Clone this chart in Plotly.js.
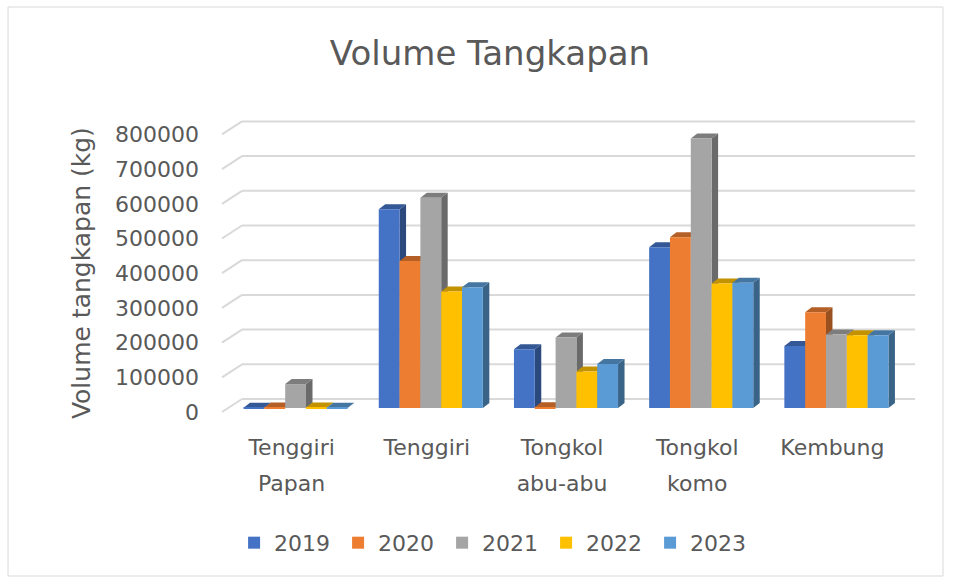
<!DOCTYPE html>
<html>
<head>
<meta charset="utf-8">
<script src="https://cdn.plot.ly/plotly-3.0.1.min.js"></script>
<style>
html,body{margin:0;padding:0;background:#fff;}
#chart{width:957px;height:578px;}
</style>
</head>
<body>
<div id="chart"></div>
<script>
// ---- data ----
const categories = ['Tenggiri Papan', 'Tenggiri', 'Tongkol abu-abu', 'Tongkol komo', 'Kembung'];
const tickLines = [['Tenggiri', 'Papan'], ['Tenggiri'], ['Tongkol', 'abu-abu'], ['Tongkol', 'komo'], ['Kembung']];
const years = ['2019', '2020', '2021', '2022', '2023'];
const y2019 = [1000, 573000, 169000, 463000, 179000];
const y2020 = [1500, 424000, 2000, 492000, 276000];
const y2021 = [69000, 606000, 203000, 777000, 212000];
const y2022 = [1500, 336000, 105000, 359000, 210000];
const y2023 = [1000, 348000, 127000, 361000, 210000];
const yTicks = [0, 100000, 200000, 300000, 400000, 500000, 600000, 700000, 800000];
const series = [y2019, y2020, y2021, y2022, y2023];
const baseColors = ['#4472C4', '#ED7D31', '#A5A5A5', '#FFC000', '#5B9BD5'];

// ---- style ----
const TXT = '#595959';
const FONT = 'DejaVu Sans';
const BARGAP = 0.23;
const BASE = 11500;      // lift of bar front face above the front floor line
const DX = 0.048;        // depth offset (category units)
const DY = 14400;        // depth offset (value units)
const BACK = 37500;      // back-wall gridline offset (value units)

function shade(hex, f) {
  const n = parseInt(hex.slice(1), 16);
  const r = Math.round(((n >> 16) & 255) * f);
  const g = Math.round(((n >> 8) & 255) * f);
  const b = Math.round((n & 255) * f);
  return 'rgb(' + r + ',' + g + ',' + b + ')';
}

const idx = categories.map((c, i) => i);
const tickText = tickLines.map(lines =>
  lines.map(l => '<span style="font-size:22px">' + l + '</span>').join('<br>'));

const traces = series.map((vals, j) => ({
  type: 'bar',
  name: years[j],
  x: idx,
  y: vals,
  base: BASE,
  customdata: categories,
  marker: {color: baseColors[j], line: {width: 0}},
  hovertemplate: '%{customdata}<br>' + years[j] + ': %{y}<extra></extra>'
}));

const shapes = [];
// back-wall gridlines and floor diagonals
yTicks.forEach(t => {
  shapes.push({type: 'line', xref: 'paper', yref: 'y', x0: 0.0207, x1: 1.0163,
    y0: t + BACK, y1: t + BACK, line: {color: '#D9D9D9', width: 2}, layer: 'below'});
  shapes.push({type: 'line', xref: 'paper', yref: 'y', x0: -0.0089, x1: 0.0207,
    y0: t, y1: t + BACK, line: {color: '#D9D9D9', width: 2}, layer: 'below'});
});
// 3D faces of bars (drawn under the bars so neighbours hide them)
const groupW = 1 - BARGAP;
const barW = groupW / series.length;
series.forEach((vals, j) => {
  vals.forEach((v, i) => {
    const xl = i - groupW / 2 + j * barW;
    const xr = xl + barW;
    const top = BASE + v;
    shapes.push({type: 'path', xref: 'x', yref: 'y', layer: 'below',
      path: 'M' + xr + ',' + BASE + ' L' + xr + ',' + top + ' L' + (xr + DX) + ',' + (top + DY) +
            ' L' + (xr + DX) + ',' + (BASE + DY) + ' Z',
      fillcolor: shade(baseColors[j], 0.64), line: {width: 0}});
    shapes.push({type: 'path', xref: 'x', yref: 'y', layer: 'below',
      path: 'M' + xl + ',' + top + ' L' + xr + ',' + top + ' L' + (xr + DX) + ',' + (top + DY) +
            ' L' + (xl + DX) + ',' + (top + DY) + ' Z',
      fillcolor: shade(baseColors[j], 0.76), line: {width: 0}});
  });
});
// chart border
shapes.push({type: 'rect', xref: 'paper', yref: 'paper', x0: -0.3254, x1: 1.0577, y0: -0.4875, y1: 1.2906,
  line: {color: '#D9D9D9', width: 1}, fillcolor: 'rgba(0,0,0,0)', layer: 'above'});

const layout = {
  width: 957, height: 578,
  margin: {l: 228, r: 53, t: 100, b: 158, pad: 0},
  paper_bgcolor: '#FFFFFF',
  plot_bgcolor: 'rgba(0,0,0,0)',
  barmode: 'group',
  bargap: BARGAP,
  bargroupgap: 0,
  showlegend: true,
  title: {text: 'Volume Tangkapan', font: {family: FONT, size: 34, color: TXT},
    x: 0.512, xref: 'container', xanchor: 'center', y: 0.908, yref: 'container', yanchor: 'middle'},
  xaxis: {type: 'linear', range: [-0.5, 4.5], tickvals: idx, ticktext: tickText,
    showgrid: false, zeroline: false, showline: false, ticks: '', fixedrange: true,
    ticklabelstandoff: 6, ticklabelshift: -4,
    tickfont: {family: FONT, size: 28, color: TXT}},
  yaxis: {range: [-23055, 899135], tickvals: yTicks, ticktext: yTicks.map(String),
    showgrid: false, zeroline: false, showline: false, ticks: '', fixedrange: true,
    ticklabelstandoff: 28,
    tickfont: {family: FONT, size: 22, color: TXT}},
  legend: {orientation: 'h', x: 0.009, xanchor: 'left', y: -0.384, yanchor: 'middle',
    font: {family: FONT, size: 22, color: TXT}, entrywidth: 59, entrywidthmode: 'pixels',
    bgcolor: 'rgba(0,0,0,0)', itemclick: false, itemdoubleclick: false},
  annotations: [{text: 'Volume tangkapan (kg)', xref: 'paper', yref: 'paper',
    x: -0.2175, y: 0.459, xanchor: 'center', yanchor: 'middle', textangle: -90,
    showarrow: false, font: {family: FONT, size: 25, color: TXT}}],
  shapes: shapes
};

Plotly.newPlot('chart', traces, layout, {displayModeBar: false});
</script>
</body>
</html>
